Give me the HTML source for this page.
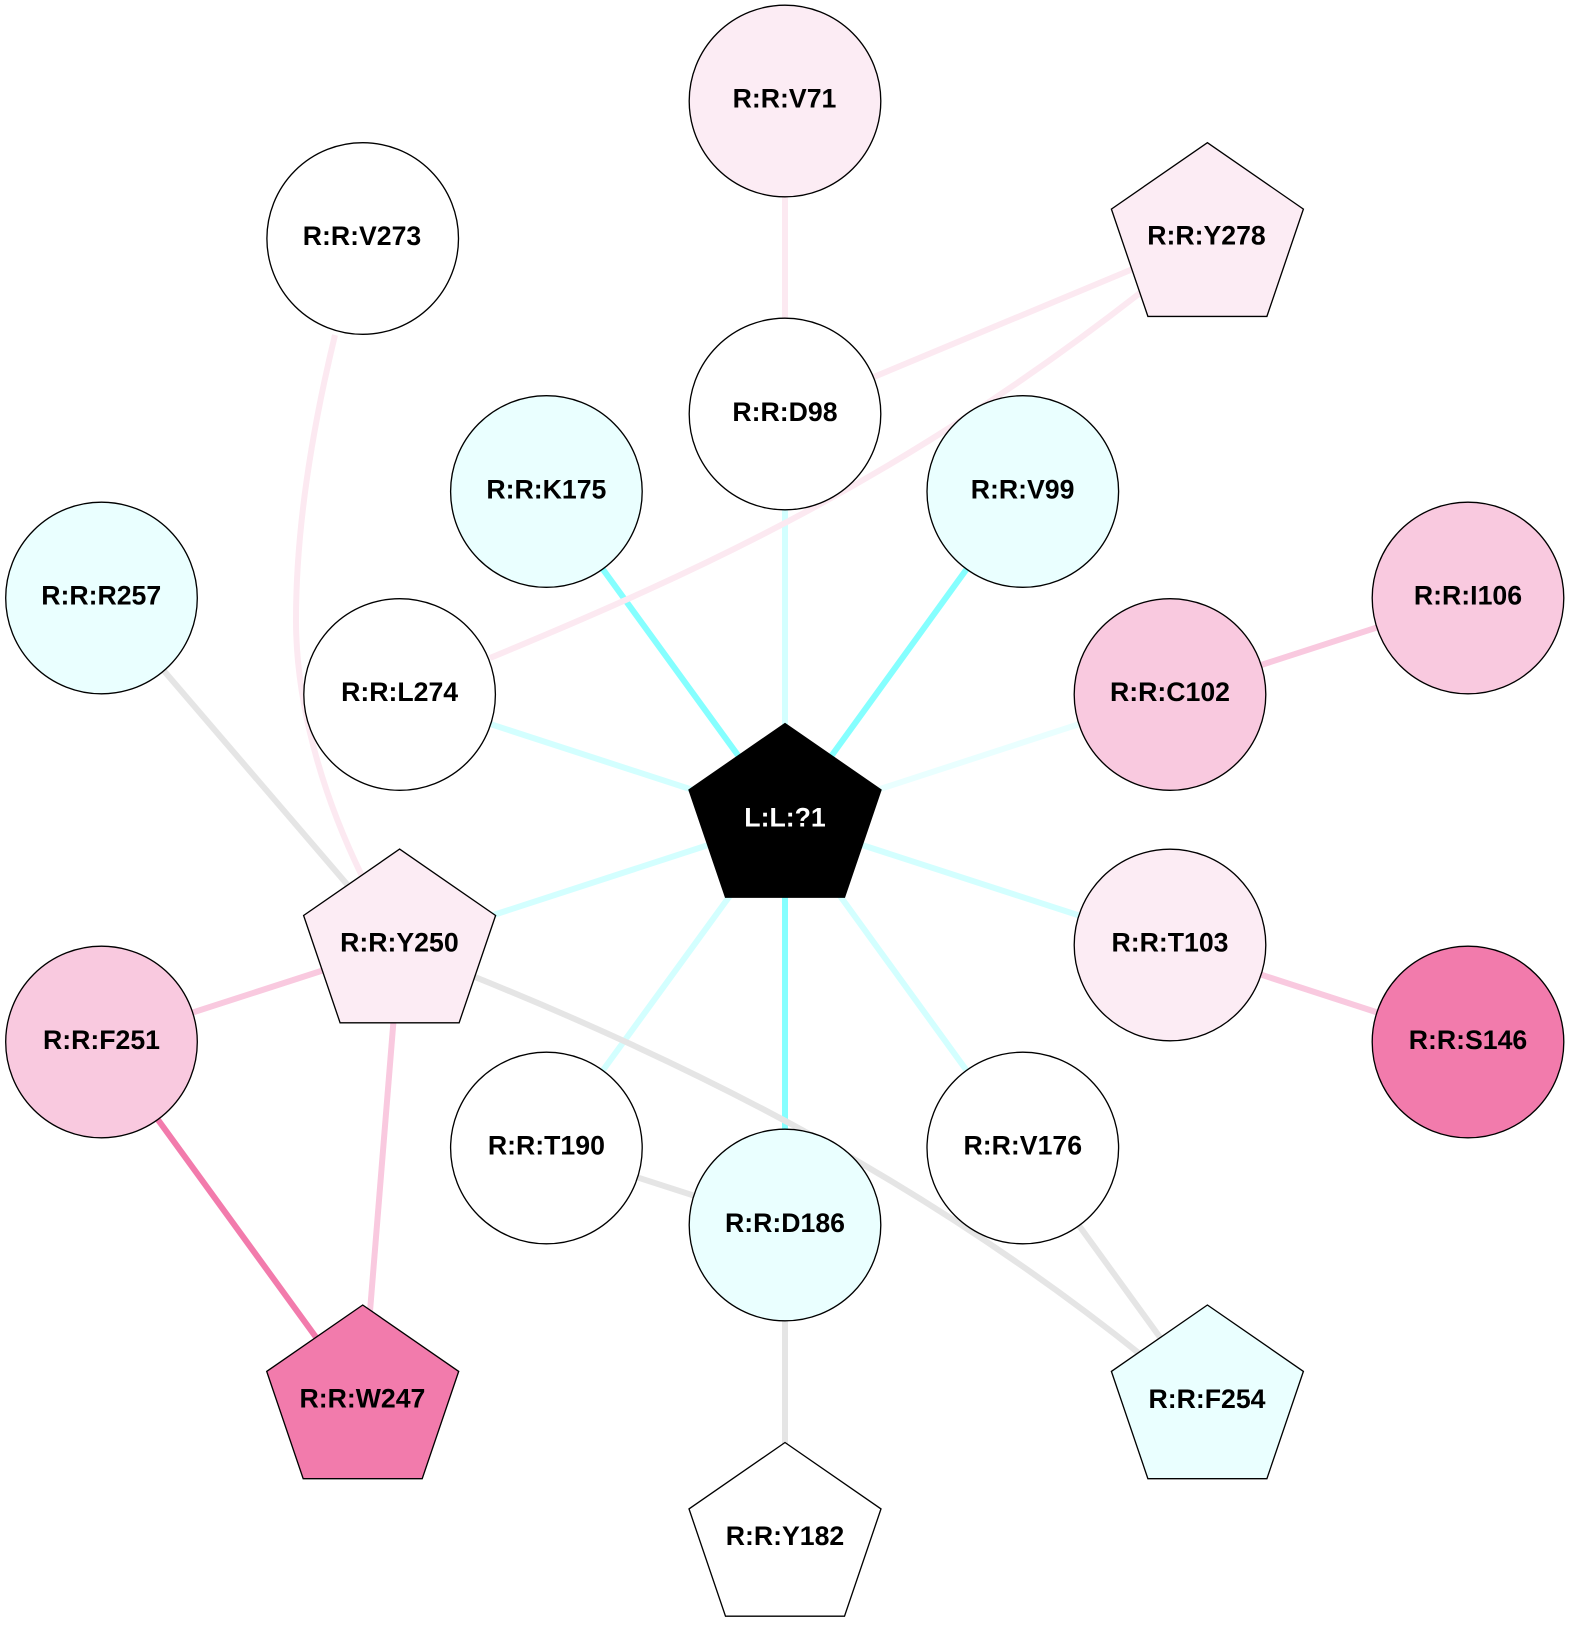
<!DOCTYPE html>
<html>
<head>
<meta charset="utf-8">
<style>
html,body{margin:0;padding:0;background:#fff}
svg{display:block}
text{font-family:"Liberation Sans",Arial,sans-serif;font-weight:bold;font-size:26.67px;text-anchor:middle;fill:#000}
.e{fill:none;stroke-width:6}
.n{stroke:#000;stroke-width:1.33}
</style>
</head>
<body>
<svg width="1570" height="1640" viewBox="0 0 1570 1640" xmlns="http://www.w3.org/2000/svg">
<defs>
<polygon id="p" points="0,-96.5 96,-30.1 59.5,77.2 -59.5,77.2 -96,-30.1"/>
</defs>
<rect width="1570" height="1640" fill="#fff"/>
<!-- edges -->
<g class="edges">
<line class="e" stroke="#d3ffff" x1="785" y1="820" x2="785" y2="414"/>
<line class="e" stroke="#85ffff" x1="785" y1="820" x2="546.4" y2="491.5"/>
<line class="e" stroke="#85ffff" x1="785" y1="820" x2="1022.8" y2="491.5"/>
<line class="e" stroke="#85ffff" x1="785" y1="820" x2="785" y2="1225"/>
<line class="e" stroke="#d3ffff" x1="785" y1="820" x2="399.6" y2="694.5"/>
<line class="e" stroke="#e9ffff" x1="785" y1="820" x2="1170" y2="694.5"/>
<line class="e" stroke="#d3ffff" x1="785" y1="820" x2="399.6" y2="945.6"/>
<line class="e" stroke="#d3ffff" x1="785" y1="820" x2="1170" y2="945"/>
<line class="e" stroke="#d3ffff" x1="785" y1="820" x2="546.4" y2="1148"/>
<line class="e" stroke="#d3ffff" x1="785" y1="820" x2="1022.8" y2="1148"/>
<line class="e" stroke="#fce9f1" x1="785" y1="101" x2="785" y2="414"/>
<line class="e" stroke="#fce9f1" x1="785" y1="414" x2="1140" y2="266"/>
<path class="e" stroke="#fce9f1" d="M490,658 C700,571 900,480 1140,293"/>
<path class="e" stroke="#fce9f1" d="M335,335 C312,430 296,530 296,620 C296,700 320,790 362,876"/>
<line class="e" stroke="#e5e5e5" x1="101.5" y1="598" x2="399.6" y2="945.6"/>
<path class="e" stroke="#e5e5e5" d="M470,975 C716,1074 936,1190 1145,1358"/>
<line class="e" stroke="#e5e5e5" x1="546.4" y1="1148" x2="785" y2="1225"/>
<line class="e" stroke="#e5e5e5" x1="1022.8" y1="1148" x2="1206.5" y2="1401.5"/>
<line class="e" stroke="#e5e5e5" x1="785" y1="1225" x2="785" y2="1539"/>
<line class="e" stroke="#f9c9df" x1="399.6" y1="945.6" x2="101.5" y2="1042"/>
<line class="e" stroke="#f9c9df" x1="399.6" y1="945.6" x2="362.7" y2="1401.5"/>
<line class="e" stroke="#f27bac" x1="101.5" y1="1042" x2="362.7" y2="1401.5"/>
<line class="e" stroke="#f9c9df" x1="1170" y1="694.5" x2="1468" y2="598"/>
<line class="e" stroke="#f9c9df" x1="1170" y1="945" x2="1468" y2="1042"/>
</g>
<!-- nodes -->
<circle class="n" cx="785" cy="101" r="95.8" fill="#fcecf4"/>
<text x="784.5" y="107.3">R:R:V71</text>
<circle class="n" cx="362.7" cy="238.5" r="95.8" fill="#fff"/>
<text x="362" y="244.8">R:R:V273</text>
<use class="n" href="#p" x="1207.4" y="239.2" fill="#fcecf4"/>
<text x="1206.5" y="244.3">R:R:Y278</text>
<circle class="n" cx="785" cy="414" r="95.8" fill="#fff"/>
<text x="785" y="421">R:R:D98</text>
<circle class="n" cx="546.4" cy="491.5" r="95.8" fill="#eaffff"/>
<text x="546.4" y="498.5">R:R:K175</text>
<circle class="n" cx="1022.8" cy="491.5" r="95.8" fill="#eaffff"/>
<text x="1022.6" y="498.5">R:R:V99</text>
<circle class="n" cx="101.5" cy="598" r="95.8" fill="#eaffff"/>
<text x="101.2" y="604.3">R:R:R257</text>
<circle class="n" cx="1468" cy="598" r="95.8" fill="#f9c9df"/>
<text x="1468" y="604.3">R:R:I106</text>
<circle class="n" cx="399.6" cy="694.5" r="95.8" fill="#fff"/>
<text x="399.6" y="700.8">R:R:L274</text>
<circle class="n" cx="1170" cy="694.5" r="95.8" fill="#f9c9df"/>
<text x="1170" y="700.8">R:R:C102</text>
<use class="n" href="#p" x="785" y="820" fill="#000"/>
<text x="785" y="826.7" style="fill:#fff">L:L:?1</text>
<use class="n" href="#p" x="399.6" y="945.6" fill="#fcecf4"/>
<text x="399.4" y="951.3">R:R:Y250</text>
<circle class="n" cx="1170" cy="945" r="95.8" fill="#fcecf4"/>
<text x="1170" y="951.3">R:R:T103</text>
<circle class="n" cx="101.5" cy="1042" r="95.8" fill="#f9c9df"/>
<text x="101.5" y="1049">R:R:F251</text>
<circle class="n" cx="1468" cy="1042" r="95.8" fill="#f27bac"/>
<text x="1468" y="1049">R:R:S146</text>
<circle class="n" cx="546.4" cy="1148" r="95.8" fill="#fff"/>
<text x="546.4" y="1154.3">R:R:T190</text>
<circle class="n" cx="1022.8" cy="1148" r="95.8" fill="#fff"/>
<text x="1022.8" y="1154.3">R:R:V176</text>
<circle class="n" cx="785" cy="1225" r="95.8" fill="#eaffff"/>
<text x="785" y="1232">R:R:D186</text>
<use class="n" href="#p" x="362.7" y="1401.5" fill="#f27bac"/>
<text x="362.4" y="1407.3">R:R:W247</text>
<use class="n" href="#p" x="1207.4" y="1401.5" fill="#eaffff"/>
<text x="1207" y="1408">R:R:F254</text>
<use class="n" href="#p" x="785" y="1539" fill="#fff"/>
<text x="785" y="1544.8">R:R:Y182</text>
</svg>
</body>
</html>
